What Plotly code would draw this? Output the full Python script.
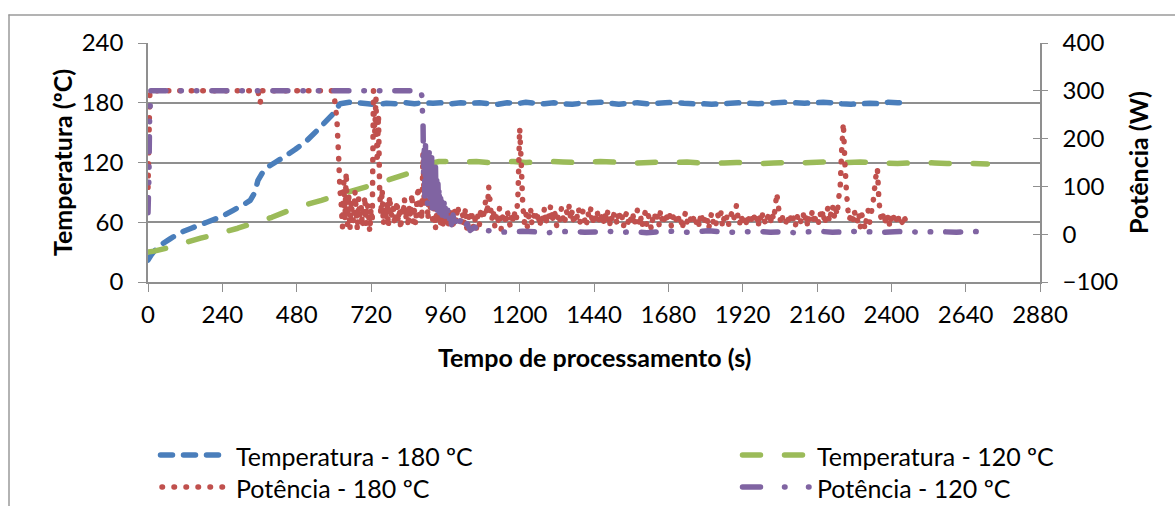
import plotly.graph_objects as go

# ---------------- data ----------------
# Temperatura - 180 ºC  (time in s, temperature in ºC)
t_temp180 = [0, 10, 20, 40, 70, 100, 140, 190, 240, 275,
             310, 330, 345, 355, 370, 384, 410, 436, 475, 513,
             555, 598, 620, 650, 680, 710, 740, 770, 800, 830,
             860, 890, 920, 950, 980, 1010, 1040, 1070, 1100, 1130,
             1160, 1190, 1220, 1250, 1280, 1310, 1340, 1370, 1400, 1430,
             1460, 1490, 1520, 1550, 1580, 1610, 1640, 1670, 1700, 1730,
             1760, 1790, 1820, 1850, 1880, 1910, 1940, 1970, 2000, 2030,
             2060, 2090, 2120, 2150, 2180, 2210, 2240, 2270, 2300, 2330,
             2360, 2390, 2420, 2450]
temp180 = [22, 27, 31, 37, 43, 49, 54, 60, 66, 72,
           78, 82, 90, 102, 110, 115, 120, 125, 133, 142,
           155, 169, 179, 180.5, 180, 179, 178, 179.5, 179, 180,
           179, 180, 179.5, 180, 179, 180, 179.5, 180, 179, 178.5,
           180, 179, 180.5, 179.5, 179, 180, 179, 178.5, 179.5, 180,
           180.5, 179.5, 178.5, 179.5, 180, 179, 179.5, 180, 180.5, 179.5,
           179, 179, 178.5, 179, 179.5, 180, 179.5, 179, 179.5, 180,
           180.5, 180, 179.5, 180, 180.5, 180, 179, 178.5, 179, 179.5,
           179, 180.5, 180, 180]

# Temperatura - 120 ºC
t_temp120 = [0, 20, 60, 113, 170, 232, 290, 330, 400, 481,
             560, 642, 720, 791, 840, 878, 910, 940, 980, 1020,
             1060, 1100, 1140, 1180, 1220, 1260, 1300, 1340, 1380, 1420,
             1460, 1500, 1540, 1580, 1620, 1660, 1700, 1740, 1780, 1820,
             1860, 1900, 1940, 1980, 2020, 2060, 2100, 2140, 2180, 2220,
             2260, 2300, 2340, 2380, 2420, 2460, 2500, 2540, 2580, 2620,
             2660, 2710]
temp120 = [30, 31, 34, 39, 44, 49, 54, 58, 65, 75,
           82, 90, 97, 104, 109, 115, 119, 121, 121, 120.5,
           121, 120, 120.5, 121, 120, 120.5, 121, 120.5, 120, 120.5,
           121, 120.5, 120, 119.5, 120, 120.5, 120, 120.5, 119.5, 119,
           119.5, 120, 119.5, 119, 119.5, 120, 119.5, 120, 120.5, 119.5,
           120, 120.5, 120, 119.5, 119, 119.5, 120, 119.5, 119, 119.5,
           119, 118.5]

# Potência - 180 ºC  (time in s, power in W)
t_pot180 = [
    0, 6, 355, 362, 369, 595, 602, 610, 615, 620,
    # heating to set point: regulation starts
    624, 628, 632, 636, 640, 644, 648, 652, 656, 660,
    664, 668, 672, 676, 680, 684, 688, 692, 696, 700,
    704, 708, 712, 716, 720, 724, 728, 732, 736, 740,
    744, 748, 752, 756, 760, 764, 768, 772, 776, 780,
    784, 788, 792, 796, 800, 804, 808, 812, 816, 820,
    824, 828, 832, 836, 840, 844, 848, 852, 856, 860,
    864, 868, 872, 876, 880, 884, 888, 892, 896, 900,
    904, 908, 912, 916, 920, 924, 928, 932, 936, 940,
    944, 948, 952, 956, 960,
    # steady regulation
    965, 970, 975, 980, 985, 990, 995, 1000, 1005, 1010,
    1015, 1020, 1025, 1030, 1035, 1040, 1045, 1050, 1055, 1060,
    1065, 1070, 1075, 1080, 1085, 1090, 1095, 1100, 1105, 1110,
    1115, 1120, 1125, 1130, 1135, 1140, 1145, 1150, 1155, 1160,
    1165, 1170, 1175, 1180, 1185, 1190, 1195, 1200, 1205, 1210,
    1215, 1220, 1225, 1230, 1235, 1240, 1245, 1250, 1255, 1260,
    1265, 1270, 1275, 1280, 1285, 1290, 1295, 1300, 1305, 1310,
    1315, 1320, 1325, 1330, 1335, 1340, 1345, 1350, 1355, 1360,
    1365, 1370, 1375, 1380, 1385, 1390, 1395, 1400, 1405, 1410,
    1415, 1420, 1425, 1430, 1435, 1440, 1445, 1450, 1455, 1460,
    1465, 1470, 1475, 1480, 1485, 1490, 1495, 1500, 1505, 1510,
    1515, 1520, 1525, 1530, 1535, 1540, 1545, 1550, 1555, 1560,
    1565, 1570, 1575, 1580, 1585, 1590, 1595, 1600, 1605, 1610,
    1615, 1620, 1625, 1630, 1635, 1640, 1645, 1650, 1655, 1660,
    1665, 1670, 1675, 1680, 1685, 1690, 1695, 1700, 1705, 1710,
    1715, 1720, 1725, 1730, 1735, 1740, 1745, 1750, 1755, 1760,
    1765, 1770, 1775, 1780, 1785, 1790, 1795, 1800, 1805, 1810,
    1815, 1820, 1825, 1830, 1835, 1840, 1845, 1850, 1855, 1860,
    1865, 1870, 1875, 1880, 1885, 1890, 1895, 1900, 1905, 1910,
    1915, 1920, 1925, 1930, 1935, 1940, 1945, 1950, 1955, 1960,
    1965, 1970, 1975, 1980, 1985, 1990, 1995, 2000, 2005, 2010,
    2015, 2020, 2025, 2030, 2035, 2040, 2045, 2050, 2055, 2060,
    2065, 2070, 2075, 2080, 2085, 2090, 2095, 2100, 2105, 2110,
    2115, 2120, 2125, 2130, 2135, 2140, 2145, 2150, 2155, 2160,
    2165, 2170, 2175, 2180, 2185, 2190, 2195, 2200, 2205, 2210,
    2215, 2220, 2225, 2230, 2235, 2240, 2245, 2250, 2255, 2260,
    2265, 2270, 2275, 2280, 2285, 2290, 2295, 2300, 2305, 2310,
    2315, 2320, 2325, 2330, 2335, 2340, 2345, 2350, 2355, 2360,
    2365, 2370, 2375, 2380, 2385, 2390, 2395, 2400, 2405, 2410,
    2415, 2420, 2425, 2430, 2435, 2440, 2445, 2450]
pot180 = [
    98, 300, 300, 274, 300, 300, 285, 240, 170, 90,
    60, 15, 110, 30, 130, 20, 85, 10, 70, 40,
    25, 90, 55, 8, 75, 35, 60, 15, 45, 80,
    20, 65, 40, 5, 55, 25, 300, 210, 285, 150,
    250, 90, 40, 95, 20, 60, 30, 70, 15, 80,
    50, 35, 65, 20, 45, 70, 25, 55, 10, 60,
    40, 75, 30, 55, 15, 60, 35, 85, 25, 50,
    20, 65, 100, 40, 75, 30, 170, 60, 140, 90,
    30, 120, 45, 80, 20, 55, 10, 45, 30, 60,
    20, 40, 15, 50, 25,
    45, 20, 55, 30, 10, 50, 25, 60, 35, 15,
    45, 20, 55, 5, 40, 25, 50, 15, 35, 10,
    40, 20, 55, 30, 45, 70, 40, 100, 65, 30,
    50, 15, 40, 25, 55, 10, 35, 45, 20, 50,
    30, 15, 45, 25, 50, 35, 90, 222, 150, 60,
    25, 45, 15, 40, 55, 20, 35, 50, 25, 45,
    15, 40, 30, 55, 20, 45, 35, 60, 25, 50,
    40, 15, 45, 30, 55, 35, 20, 50, 40, 60,
    30, 50, 20, 45, 35, 55, 25, 40, 50, 30,
    15, 45, 35, 55, 20, 40, 30, 50, 25, 45,
    35, 20, 45, 30, 50, 15, 40, 25, 45, 35,
    20, 50, 30, 40, 15, 35, 45, 25, 40, 30,
    45, 20, 35, 50, 25, 40, 15, 35, 45, 20,
    40, 30, 10, 35, 45, 25, 40, 20, 50, 30,
    20, 45, 35, 25, 40, 15, 35, 45, 30, 20,
    40, 35, 10, 30, 45, 25, 35, 40, 20, 30,
    40, 25, 35, 15, 45, 30, 20, 40, 35, 10,
    30, 45, 25, 35, 20, 40, 30, 45, 15, 35,
    25, 40, 20, 35, 45, 30, 40, 61, 35, 20,
    40, 25, 35, 15, 40, 30, 20, 35, 45, 25,
    35, 15, 40, 25, 45, 30, 20, 35, 40, 25,
    45, 30, 55, 86, 60, 35, 20, 40, 30, 25,
    40, 20, 35, 45, 25, 15, 40, 30, 20, 35,
    45, 25, 40, 15, 35, 30, 50, 20, 35, 40,
    25, 45, 30, 50, 20, 40, 55, 25, 45, 60,
    35, 55, 40, 75, 100, 180, 233, 150, 90, 50,
    30, 45, 20, 50, 35, 25, 45, 15, 40, 30,
    10, 35, 50, 25, 45, 60, 90, 120, 138, 70,
    40, 25, 45, 30, 20, 40, 15, 35, 45, 25,
    35, 20, 40, 30, 25, 40, 30, 35]

# Potência - 120 ºC
t_pot120 = [0, 3, 5, 9, 880, 884, 886, 888, 890, 892,
            894, 896, 898, 900, 902, 904, 906, 908, 910, 912,
            914, 916, 918, 920, 922, 924, 926, 928, 930, 932,
            934, 936, 938, 940, 942, 944, 946, 948, 950, 952,
            954, 956, 958, 960, 964, 968, 972, 976, 980, 985,
            990, 995, 1000, 1010, 1020, 1030, 1040, 1055, 1070, 1090,
            1130, 1170, 1210, 1250, 1290, 1330, 1370, 1410, 1450, 1490,
            1530, 1570, 1610, 1650, 1690, 1730, 1770, 1810, 1850, 1890,
            1930, 1970, 2010, 2050, 2090, 2130, 2170, 2210, 2250, 2290,
            2330, 2370, 2410, 2450, 2490, 2530, 2570, 2610, 2650, 2690,
            2710]
pot120 = [45, 120, 235, 300, 300, 290, 260, 233, 120, 190,
          70, 185, 90, 170, 60, 160, 85, 175, 65, 150,
          80, 160, 55, 140, 75, 130, 60, 150, 70, 120,
          50, 110, 65, 100, 45, 90, 55, 80, 40, 70,
          45, 65, 35, 55, 30, 50, 25, 45, 20, 40,
          15, 35, 20, 30, 12, 22, 8, 15, 5, 8,
          5, 4, 6, 5, 3, 5, 6, 4, 5, 6,
          4, 5, 3, 5, 6, 4, 5, 7, 5, 4,
          5, 6, 4, 5, 3, 5, 6, 4, 5, 6,
          5, 4, 5, 6, 4, 5, 5, 4, 6, 5,
          6]

x_ticks = [0, 240, 480, 720, 960, 1200, 1440, 1680, 1920, 2160, 2400, 2640, 2880]

# ---------------- styles ----------------
BLUE, GREEN, RED, PURPLE = "#4A7EBB", "#9BBB59", "#C0504D", "#8064A2"
DASH_BLUE = "12px,11px"
DASH_GREEN = "18px,24px"
DASH_RED = "0.5px,11px"
DASH_PURPLE = "15px,15px,0.5px,15px,0.5px,15px"
FONT = "Lato"
GRID = "#8f8f8f"

W, H = 1175, 506
PL, PR, PT, PB = 148, 1040, 43, 282   # plot area in pixels


def fx(x):
    return (x - PL) / (PR - PL)


def fy(y):
    return (PB - y) / (PB - PT)


fig = go.Figure()

fig.add_trace(go.Scatter(x=t_temp180, y=temp180, mode="lines", name="Temperatura - 180 ºC",
                         line=dict(color=BLUE, width=5.5, dash=DASH_BLUE, simplify=False),
                         showlegend=False))
fig.add_trace(go.Scatter(x=t_temp120, y=temp120, mode="lines", name="Temperatura - 120 ºC",
                         line=dict(color=GREEN, width=5.5, dash=DASH_GREEN, simplify=False),
                         showlegend=False))
fig.add_trace(go.Scatter(x=t_pot180, y=pot180, mode="lines", name="Potência - 180 ºC", yaxis="y2",
                         line=dict(color=RED, width=5.5, dash=DASH_RED, simplify=False),
                         showlegend=False))
fig.add_trace(go.Scatter(x=t_pot120, y=pot120, mode="lines", name="Potência - 120 ºC", yaxis="y2",
                         line=dict(color=PURPLE, width=5.5, dash=DASH_PURPLE, simplify=False),
                         showlegend=False))
# carrier for the inner half of the right-hand tick marks
fig.add_trace(go.Scatter(x=[None], y=[None], yaxis="y3", showlegend=False, hoverinfo="skip"))

tickfont = dict(family=FONT, size=24, color="black")

fig.update_layout(
    width=W, height=H, autosize=False,
    margin=dict(l=PL, r=W - PR, t=PT, b=H - PB, pad=0),
    paper_bgcolor="white", plot_bgcolor="white",
    showlegend=False,
    font=dict(family=FONT, color="black"),
    xaxis=dict(range=[0, 2880], tickvals=x_ticks, ticks="outside", ticklen=8, tickwidth=1.3,
               tickcolor=GRID, showline=True, linecolor=GRID, linewidth=1.5, showgrid=False,
               zeroline=False, tickfont=tickfont, ticklabelstandoff=2),
    yaxis=dict(range=[0, 240], dtick=60, ticks="outside", ticklen=8, tickwidth=1.3, tickcolor=GRID,
               showline=True, linecolor=GRID, linewidth=1.5, showgrid=True, gridcolor=GRID,
               gridwidth=1.5, zeroline=False, tickfont=tickfont, ticklabelstandoff=10),
    yaxis2=dict(range=[-100, 400], dtick=100, overlaying="y", side="right", anchor="x",
                ticks="outside", ticklen=6, tickwidth=1.3, tickcolor=GRID, showline=True,
                linecolor=GRID, linewidth=1.5, showgrid=False, zeroline=False, tickfont=tickfont,
                ticklabelstandoff=10),
    yaxis3=dict(range=[-100, 400], dtick=100, overlaying="y", side="right", anchor="x",
                ticks="inside", ticklen=7, tickwidth=1.3, tickcolor=GRID, showline=False,
                showgrid=False, zeroline=False, showticklabels=False),
)

# axis titles
title_font = dict(family=FONT, size=25, color="black", weight="bold")
annotations = [
    dict(text="Temperatura (ºC)", x=fx(62), y=fy(163), textangle=-90),
    dict(text="Potência (W)", x=fx(1138), y=fy(163), textangle=-90),
    dict(text="Tempo de processamento (s)", x=fx(594), y=fy(357), textangle=0),
]
for a in annotations:
    fig.add_annotation(xref="paper", yref="paper", xanchor="center", yanchor="middle",
                       showarrow=False, font=title_font, **a)

# legend: sample lines and labels
legend_items = [
    ("Temperatura - 180 ºC", BLUE, DASH_BLUE, 5.5, 160.5, 220.5, 455, 234),
    ("Potência - 180 ºC", RED, "0.5px,11.5px", 5.5, 162, 223, 487, 234),
    ("Temperatura - 120 ºC", GREEN, DASH_GREEN, 5.5, 742.5, 803, 455, 815),
    ("Potência - 120 ºC", PURPLE, "18px,24px,0.5px,23.5px,0.5px,30px", 5.5, 742.5, 810, 487, 815),
]
shapes = [
    # outer chart frame
    dict(type="line", xref="paper", yref="paper", x0=fx(9), x1=fx(1200), y0=fy(15), y1=fy(15),
         line=dict(color="#9a9a9a", width=1.5)),
    dict(type="line", xref="paper", yref="paper", x0=fx(9), x1=fx(9), y0=fy(15), y1=fy(530),
         line=dict(color="#9a9a9a", width=1.5)),
]
for label, color, dash, width, x0, x1, y, tx in legend_items:
    shapes.append(dict(type="line", xref="paper", yref="paper", x0=fx(x0), x1=fx(x1),
                       y0=fy(y), y1=fy(y), line=dict(color=color, width=width, dash=dash)))
    fig.add_annotation(xref="paper", yref="paper", x=fx(tx), y=fy(y + 1), xanchor="left",
                       yanchor="middle", showarrow=False, text=label,
                       font=dict(family=FONT, size=25, color="black"))
fig.update_layout(shapes=shapes)

round_caps = """
var gd = document.getElementById('{plot_id}');
function roundCaps() {
  gd.querySelectorAll('path.js-line, g.shapelayer path').forEach(function (p) {
    p.style.strokeLinecap = 'round';
    p.style.strokeLinejoin = 'round';
  });
}
roundCaps();
gd.on('plotly_afterplot', roundCaps);
"""

fig.write_html("out.html", post_script=round_caps)
